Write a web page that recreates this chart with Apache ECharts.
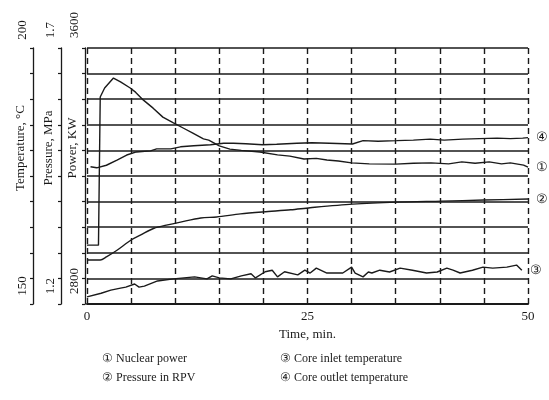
<!DOCTYPE html>
<html>
<head>
<meta charset="utf-8">
<script src="https://cdn.jsdelivr.net/npm/echarts@6/dist/echarts.min.js"></script>
<style>
  html, body { margin: 0; padding: 0; background: #fff; }
  #chart { width: 549px; height: 400px; }
</style>
</head>
<body>
<div id="chart"></div>
<script>
// ① nuclear power, KW
const powerTime = [0, 1.3, 1.5, 2.0, 3.0, 3.8, 4.9, 5.5, 6.4, 7.5, 8.6, 9.8, 10.9, 12.0, 13.2, 13.8, 15.0, 16.2, 17.5, 19.6, 21.6, 23.0, 24.6, 26.0, 27.2, 28.5, 30.0, 32.0, 35.0, 37.0, 39.0, 41.0, 42.5, 44.0, 45.6, 47.0, 48.0, 49.5, 50];
const powerVal = [2984, 2984, 3447, 3475, 3506, 3494, 3475, 3462, 3437, 3412, 3384, 3366, 3350, 3334, 3316, 3312, 3294, 3284, 3280, 3275, 3266, 3262, 3253, 3255, 3250, 3247, 3241, 3238, 3237, 3240, 3241, 3238, 3244, 3240, 3244, 3238, 3241, 3234, 3228];

// ② pressure in RPV, MPa
const pressTime = [0, 1.5, 2.2, 3.4, 5.0, 6.1, 7.6, 9.0, 10.6, 12.9, 14.7, 17.4, 20.0, 23.1, 25.3, 30.1, 35.1, 40.2, 45.0, 50];
const pressVal = [1.286, 1.286, 1.292, 1.305, 1.325, 1.335, 1.348, 1.354, 1.360, 1.368, 1.370, 1.376, 1.380, 1.384, 1.388, 1.395, 1.399, 1.401, 1.403, 1.405];

// ③ core inlet temperature, °C
const inletTime = [0, 1.6, 2.7, 3.8, 4.4, 5.4, 5.9, 6.5, 8.0, 9.8, 11.0, 12.2, 13.6, 14.2, 15.0, 16.3, 17.5, 18.6, 19.1, 20.2, 21.0, 21.6, 22.4, 23.9, 24.7, 25.3, 26.0, 27.2, 29.0, 30.0, 30.4, 31.3, 31.9, 32.3, 33.2, 34.3, 35.5, 36.9, 38.5, 39.7, 40.8, 41.5, 42.3, 43.7, 44.9, 46.0, 47.6, 48.7, 49.3];
const inletTemp = [151.4, 152.1, 152.7, 153.1, 153.3, 153.9, 153.3, 153.5, 154.5, 154.9, 155.1, 155.3, 154.9, 155.5, 155.1, 154.9, 155.5, 155.9, 155.1, 156.3, 156.6, 155.3, 156.3, 155.7, 156.6, 156.05, 157.0, 156.05, 156.05, 157.2, 156.05, 155.3, 156.25, 156.05, 156.6, 156.25, 157.0, 156.6, 156.05, 156.25, 157.0, 156.6, 156.05, 156.6, 157.2, 157.0, 157.2, 157.6, 156.6];

// ④ core outlet temperature, °C
const outletTime = [0.4, 1.1, 2.2, 3.4, 4.5, 5.6, 7.2, 7.9, 9.5, 10.6, 12.1, 14.0, 15.5, 16.6, 18.0, 19.9, 21.5, 23.8, 25.5, 27.5, 30.1, 31.3, 33.0, 35.1, 37.0, 38.9, 40.5, 42.6, 44.5, 46.5, 48.0, 49.4, 50];
const outletTemp = [176.8, 176.6, 177.1, 178.1, 179.1, 179.7, 179.9, 180.3, 180.3, 180.7, 180.9, 181.1, 181.4, 181.4, 181.3, 181.1, 181.2, 181.4, 181.5, 181.4, 181.25, 181.9, 181.8, 181.9, 182.0, 182.2, 182.0, 182.2, 182.3, 182.4, 182.3, 182.4, 182.5];

const timeLabels = [0, 25, 50];
const seriesNames = ['Nuclear power', 'Pressure in RPV', 'Core inlet temperature', 'Core outlet temperature'];
const seriesMarks = ['①', '②', '③', '④'];

const ink = '#1a1a1a';
const serif = '"Liberation Serif", "DejaVu Serif", serif';

function zip(xs, ys) {
    return xs.map(function (x, i) { return [x, ys[i]]; });
}

function endsOnly(min, max, digits) {
    return function (v) {
        if (Math.abs(v - min) < 1e-6) return min.toFixed(digits);
        if (Math.abs(v - max) < 1e-6) return max.toFixed(digits);
        return '';
    };
}

// scanned figure: the left scales sit a little higher than the grid, hence the paddings
function leftAxis(name, min, max, interval, offset, digits, lift) {
    return {
        type: 'value',
        position: 'left',
        offset: offset,
        min: min,
        max: max,
        interval: interval,
        name: name,
        nameLocation: 'middle',
        nameRotate: 90,
        nameGap: 6,
        nameMoveOverlap: false,
        nameTextStyle: { fontFamily: serif, fontSize: 13, color: ink, padding: [0, 0, 0, 56] },
        axisLine: { show: true, onZero: false, lineStyle: { color: ink, width: 1.3 } },
        axisTick: { show: true, length: 3, lineStyle: { color: ink, width: 1.2 } },
        axisLabel: {
            rotate: 90,
            margin: 4,
            fontFamily: serif,
            fontSize: 13,
            color: ink,
            padding: [0, 0, 0, lift],
            formatter: endsOnly(min, max, digits)
        },
        splitLine: { show: false }
    };
}

function curve(i, yAxisIndex, data, smooth) {
    return {
        name: seriesNames[i],
        type: 'line',
        yAxisIndex: yAxisIndex,
        data: data,
        showSymbol: false,
        smooth: smooth,
        lineStyle: { color: ink, width: 1.4 },
        itemStyle: { color: ink },
        endLabel: {
            show: true,
            formatter: seriesMarks[i],
            distance: 8,
            fontSize: 13,
            color: ink
        }
    };
}

let chart = echarts.init(document.getElementById('chart'));
let temperatureAxis = leftAxis('Temperature, °C', 150, 200, 5, 54, 0, 36);
temperatureAxis.splitLine = { show: true, lineStyle: { color: ink, width: 1.6, type: 'solid' } };

let option = {
    animation: false,
    backgroundColor: '#fff',
    grid: { left: 87, right: 21, top: 48, bottom: 96, outerBoundsMode: 'none' },
    legend: [
        {
            data: [seriesNames[0], seriesNames[1]],
            orient: 'vertical',
            left: 92,
            top: 347,
            icon: 'none',
            itemWidth: 0,
            itemGap: 6,
            formatter: function (n) { return seriesMarks[seriesNames.indexOf(n)] + ' ' + n; },
            textStyle: { fontFamily: serif, fontSize: 12, color: ink }
        },
        {
            data: [seriesNames[2], seriesNames[3]],
            orient: 'vertical',
            left: 270,
            top: 347,
            icon: 'none',
            itemWidth: 0,
            itemGap: 6,
            formatter: function (n) { return seriesMarks[seriesNames.indexOf(n)] + ' ' + n; },
            textStyle: { fontFamily: serif, fontSize: 12, color: ink }
        }
    ],
    xAxis: {
        type: 'value',
        min: 0,
        max: 50,
        interval: 5,
        name: 'Time, min.',
        nameLocation: 'middle',
        nameGap: 21,
        nameTextStyle: { fontFamily: serif, fontSize: 13, color: ink },
        axisLine: { lineStyle: { color: ink, width: 2 } },
        axisTick: { show: false },
        axisLabel: {
            margin: 6,
            fontFamily: serif,
            fontSize: 13,
            color: ink,
            formatter: function (v) { return timeLabels.indexOf(v) >= 0 ? String(v) : ''; }
        },
        splitLine: { show: true, lineStyle: { color: ink, width: 1.4, type: [6, 4] } }
    },
    yAxis: [
        temperatureAxis,
        leftAxis('Pressure, MPa', 1.2, 1.7, 0.05, 26, 1, 36),
        leftAxis('Power, KW', 2800, 3600, 80, 2, 0, 46)
    ],
    series: [
        curve(0, 2, zip(powerTime, powerVal), false),
        curve(1, 1, zip(pressTime, pressVal), 0.3),
        curve(2, 0, zip(inletTime, inletTemp), false),
        curve(3, 0, zip(outletTime, outletTemp), false)
    ]
};
chart.setOption(option);
</script>
</body>
</html>
